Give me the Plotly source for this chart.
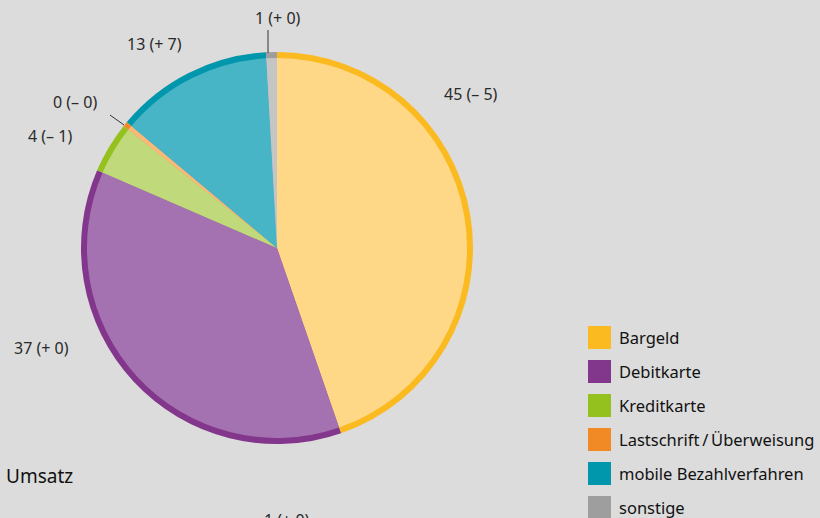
import plotly.graph_objects as go

# ---- data ----
categories = ["Bargeld", "Debitkarte", "Kreditkarte", "Lastschrift\u2009/\u2009Überweisung",
              "mobile Bezahlverfahren", "sonstige"]
shares = [44.7, 36.8, 4.2, 0.4, 13, 0.9]          # drawn slice sizes
value_labels = ["45 (– 5)", "37 (+ 0)", "4 (– 1)", "0 (– 0)", "13 (+ 7)", "1 (+ 0)"]

dark_colors = ["#fbba1f", "#82368c", "#95c11f", "#f18a24", "#0097ad", "#9e9e9e"]
light_colors = ["#fed887", "#a472b0", "#c0da7b", "#f8b97a", "#48b5c7", "#c5c5c5"]

W, H = 820, 518
cx, cy, R, ring = 277, 248, 196, 6

def dom(r):
    return dict(x=[(cx - r) / W, (cx + r) / W], y=[(H - cy - r) / H, (H - cy + r) / H])

fig = go.Figure()
fig.add_trace(go.Pie(values=shares, labels=categories, sort=False, direction="clockwise",
                     rotation=0, marker=dict(colors=dark_colors, line=dict(width=0)),
                     textinfo="none", hoverinfo="skip", domain=dom(R), showlegend=False))
fig.add_trace(go.Pie(values=shares, labels=categories, sort=False, direction="clockwise",
                     rotation=0, marker=dict(colors=light_colors, line=dict(width=0)),
                     textinfo="none", hoverinfo="skip", domain=dom(R - ring), showlegend=False))

# label placement (pixels)
label_pos = [(471, 94), (41, 348), (50, 136), (75, 102), (154, 44), (278, 18)]
annotations = []
for txt, (px, py) in zip(value_labels, label_pos):
    annotations.append(dict(x=px / W, y=1 - py / H, xref="paper", yref="paper", text=txt,
                            showarrow=False, xanchor="center", yanchor="middle",
                            font=dict(family="Noto Sans", size=16, color="#2a2a2a")))

shapes = [
    dict(type="line", xref="paper", yref="paper", x0=110 / W, y0=1 - 115 / H,
         x1=124 / W, y1=1 - 125 / H, line=dict(color="#333333", width=1)),
    dict(type="line", xref="paper", yref="paper", x0=268 / W, y0=1 - 30 / H,
         x1=268 / W, y1=1 - 53 / H, line=dict(color="#333333", width=1)),
]

# legend
lx, ly0, step, sq = 588, 326, 34, 23
for i, (cat, col) in enumerate(zip(categories, dark_colors)):
    top = ly0 + i * step
    shapes.append(dict(type="rect", xref="paper", yref="paper", x0=lx / W, x1=(lx + sq) / W,
                       y0=1 - (top + sq) / H, y1=1 - top / H, line=dict(width=0), fillcolor=col))
    annotations.append(dict(x=617 / W, y=1 - (top + sq / 2) / H, xref="paper", yref="paper",
                            text=cat, showarrow=False, xanchor="left", yanchor="middle",
                            font=dict(family="Noto Sans", size=16.5, color="#111111")))

annotations.append(dict(x=4 / W, y=1 - 476 / H, xref="paper", yref="paper", text="Umsatz",
                        showarrow=False, xanchor="left", yanchor="middle",
                        font=dict(family="Noto Sans", size=19, color="#111111")))
annotations.append(dict(x=287 / W, y=1 - 507 / H, xref="paper", yref="paper", text="1 (+ 0)",
                        showarrow=False, xanchor="center", yanchor="top",
                        font=dict(family="Noto Sans", size=16, color="#2a2a2a")))

fig.update_layout(width=W, height=H, margin=dict(l=0, r=0, t=0, b=0),
                  paper_bgcolor="#dcdcdc", plot_bgcolor="#dcdcdc",
                  showlegend=False, annotations=annotations, shapes=shapes)
fig.write_html("out.html", config={"displayModeBar": False},
               post_script="document.body.style.margin='0';document.body.style.overflow='hidden';")
